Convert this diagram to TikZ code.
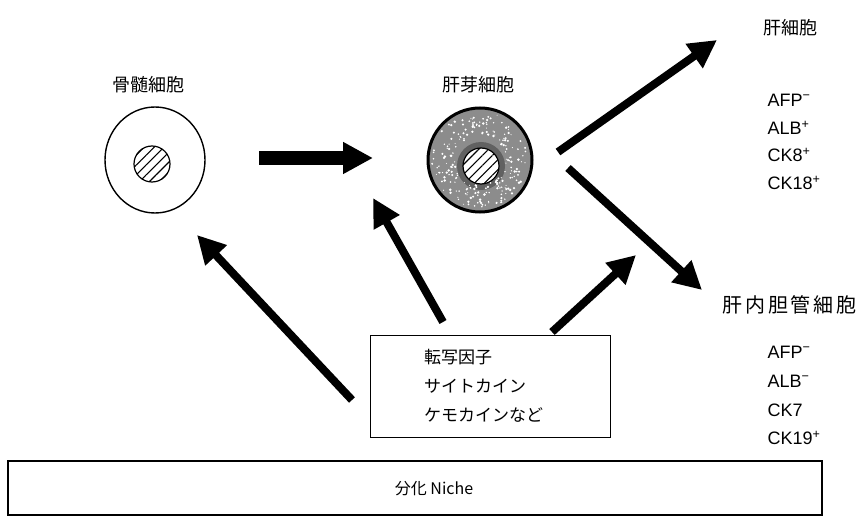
\documentclass[tikz,border=0pt]{standalone}
\usepackage{fontspec}
\setmainfont{Liberation Sans}
\newfontfamily\jp{Noto Sans CJK JP}
\newfontfamily\jpwide[LetterSpace=14]{Noto Sans CJK JP}
\usetikzlibrary{arrows.meta,shapes.geometric,patterns.meta,calc}

\tikzset{
  cellbody/.style={ellipse, draw=black, line width=1.4pt, fill=white,
    minimum width=100pt, minimum height=106pt, inner sep=0pt},
  budbody/.style={ellipse, draw=black, line width=3pt, fill=black!45,
    minimum width=104pt, minimum height=104pt, inner sep=0pt},
  nucleus/.style={circle, draw=black, line width=1.2pt, fill=white,
    minimum size=36pt, inner sep=0pt,
    postaction={pattern={Lines[angle=45,distance=7pt,line width=1.1pt]}}},
  cellname/.style={font=\jp\fontsize{18}{21}\selectfont},
  marker/.style={anchor=west, font=\fontsize{18}{21}\selectfont},
  signal/.style={-{Triangle[length=28pt,width=28pt]}, line width=8pt},
  fatarrow/.style={-{Triangle[length=30pt,width=30pt]}, line width=14pt},
}

\begin{document}
\begin{tikzpicture}[x=1pt,y=-1pt]
  \useasboundingbox (0,0) rectangle (864,529);

  % bone marrow cell
  \node[cellname] (bmlabel) at (148,85) {骨髄細胞};
  \node[cellbody] (bm) at (155,160) {};
  \node[nucleus] (bmnuc) at (152,164) {};

  % hepatoblast, grainy cytoplasm
  \node[cellname] (hblabel) at (478,85) {肝芽細胞};
  \node[budbody] (hb) at (480,160) {};
  \node[circle, fill=black!62, minimum size=48pt] (hbring) at (481,166) {};
  \pgfmathsetseed{7}
  \foreach \k in {1,...,220} {
    \pgfmathsetmacro{\ang}{360*rnd}
    \pgfmathsetmacro{\rad}{25+23*rnd}
    \fill[white] ($(hb.center)+(\ang:\rad)$) circle (0.5+0.9*rnd);
  }
  \node[nucleus] (hbnuc) at (481,166) {};

  \coordinate (fa) at (259,158);
  \coordinate (fb) at (373,158);
  \draw[fatarrow] (fa) -- (fb);

  % hepatocyte
  \node[cellname] (hclabel) at (790,28) {肝細胞};
  \node[marker] (h1) at (764,100) {AFP\textsuperscript{−}};
  \node[marker] (h2) at (764,128) {ALB\textsuperscript{+}};
  \node[marker] (h3) at (764,155) {CK8\textsuperscript{+}};
  \node[marker] (h4) at (764,183) {CK18\textsuperscript{+}};

  % cholangiocyte
  \node[anchor=west, font=\jpwide\fontsize{20}{23}\selectfont]
    (cclabel) at (719,305) {肝内胆管細胞};
  \node[marker] (c1) at (764,352) {AFP\textsuperscript{−}};
  \node[marker] (c2) at (764,381) {ALB\textsuperscript{−}};
  \node[marker] (c3) at (764,410) {CK7};
  \node[marker] (c4) at (764,438) {CK19\textsuperscript{+}};

  % factors and niche
  \node[draw, line width=1pt, minimum width=240pt, minimum height=102pt]
    (factors) at (490,386) {};
  \node[anchor=west, align=left, inner sep=0pt,
    font=\jp\fontsize{17}{29}\selectfont] (factext) at (424,386)
    {転写因子\\サイトカイン\\ケモカインなど};
  \node[draw, line width=1.4pt, minimum width=814pt, minimum height=54pt]
    (niche) at (415,488) {};
  \node[font=\jp\fontsize{16}{20}\selectfont] (nichetext) at (434,489)
    {分化 Niche};

  \coordinate (s1) at (352,400);
  \coordinate (t1) at (197,235);
  \coordinate (s2) at (443,322);
  \coordinate (t2) at (373,198);
  \coordinate (s3) at (552,332);
  \coordinate (t3) at (636,255);
  \coordinate (s4) at (558,152);
  \coordinate (t4) at (717,40);
  \coordinate (s5) at (568,168);
  \coordinate (t5) at (702,290);

  \draw[signal] (s1) -- (t1);
  \draw[signal] (s2) -- (t2);
  \draw[signal] (s3) -- (t3);
  \draw[signal] (s4) -- (t4);
  \draw[signal] (s5) -- (t5);
\end{tikzpicture}
\end{document}
